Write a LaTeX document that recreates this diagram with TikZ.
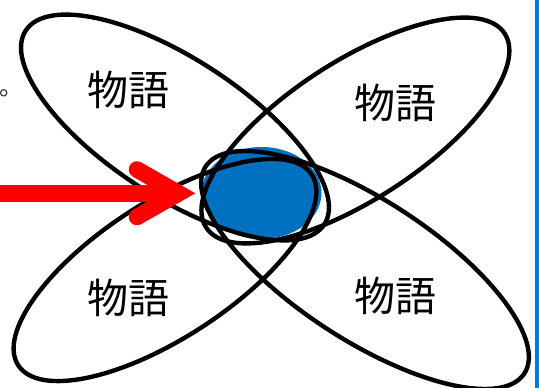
\documentclass[tikz,border=0pt]{standalone}
\usepackage{fontspec}
\newfontfamily\jpfont{Noto Sans CJK JP}
\usetikzlibrary{shapes.geometric}
\definecolor{coreblue}{RGB}{0,112,192}
\definecolor{edgeblue}{RGB}{0,124,214}
\begin{document}
\begin{tikzpicture}[x=1pt,y=-1pt,
  petal/.style={draw=black, line width=4.4pt, ellipse, inner sep=0pt, outer sep=0pt},
  petallabel/.style={font=\jpfont\fontsize{41}{41}\selectfont, inner sep=0pt},
  arrowred/.style={red, line width=16.5pt, line cap=round, line join=miter, miter limit=20}]
\useasboundingbox (0,0) rectangle (539,388);
\fill[white] (0,0) rectangle (539,388);
% central blue disc
\node[ellipse, fill=coreblue, minimum width=120pt, minimum height=92pt, inner sep=0pt] (core) at (261.5,193) {};
% four petals
\node[petal, minimum width=356pt, minimum height=138pt, rotate=-33] (tl) at (175,127.5) {};
\node[petal, minimum width=356pt, minimum height=138pt, rotate=33] (tr) at (355.4,130.5) {};
\node[petal, minimum width=350pt, minimum height=136pt, rotate=33] (bl) at (165,270) {};
\node[petal, minimum width=380pt, minimum height=140pt, rotate=-33] (br) at (365,270) {};
% labels
\node[petallabel] (ttl) at (128,90) {物語};
\node[petallabel] (ttr) at (395,103) {物語};
\node[petallabel] (tbl) at (128,298) {物語};
\node[petallabel] (tbr) at (395,296) {物語};
% small full stop at left edge
\node[font=\jpfont\fontsize{24}{24}\selectfont, anchor=base west, inner sep=0pt, text=black!85] (dot) at (-1,95) {。};
% red arrow
\coordinate (tip) at (178.7,193.3);
\coordinate (start) at (-5,193.3);
\coordinate (barbup) at (137,169.5);
\coordinate (barbdown) at (137,217);
\draw[red, line width=16.7pt] (start) -- ([xshift=2pt]tip);
\draw[arrowred] (barbup) -- (tip) -- (barbdown);
% right blue border line
\fill[edgeblue] (534.5,0) rectangle (539,388);
\end{tikzpicture}
\end{document}
